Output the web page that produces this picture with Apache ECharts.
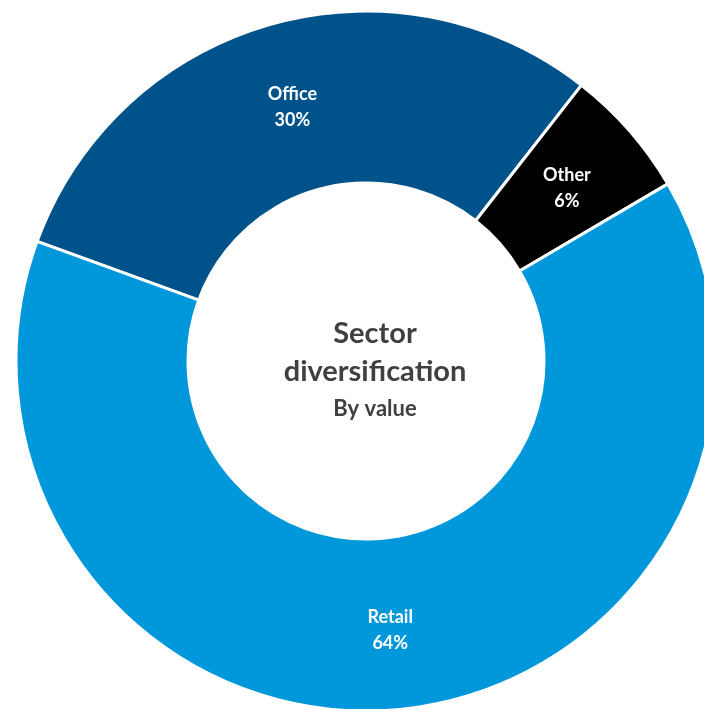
<!DOCTYPE html>
<html>
<head>
<meta charset="utf-8">
<script src="https://cdn.jsdelivr.net/npm/echarts@6/dist/echarts.min.js"></script>
<style>
html,body{margin:0;padding:0;background:#fff;}
#chart{width:704px;height:709px;}
</style>
</head>
<body>
<div id="chart"></div>
<script>
const categories = ['Office', 'Other', 'Retail'];
const values = [30, 6, 64];
const titleLines = ['Sector', 'diversification'];
const subtitle = 'By value';

const colors = ['#00538A', '#000000', '#0098DA'];
const chart = echarts.init(document.getElementById('chart'));
const fontFam = 'Lato, "Open Sans", sans-serif';
chart.setOption({
  animation: false,
  backgroundColor: '#ffffff',
  graphic: [
    { type: 'text', x: 375, y: 334, style: { text: titleLines[0], fill: '#404040', font: 'bold 29px ' + fontFam, textAlign: 'center', textVerticalAlign: 'middle' } },
    { type: 'text', x: 375, y: 372, style: { text: titleLines[1], fill: '#404040', font: 'bold 29px ' + fontFam, textAlign: 'center', textVerticalAlign: 'middle' } },
    { type: 'text', x: 375, y: 409, style: { text: subtitle, fill: '#404040', font: 'bold 22px ' + fontFam, textAlign: 'center', textVerticalAlign: 'middle' } }
  ],
  series: [{
    type: 'pie',
    center: [366, 361],
    radius: [178, 350],
    startAngle: 160,
    clockwise: true,
    avoidLabelOverlap: false,
    itemStyle: { borderColor: '#ffffff', borderWidth: 3 },
    label: {
      show: true,
      position: 'inside',
      color: '#ffffff',
      fontFamily: fontFam,
      fontWeight: 'bold',
      fontSize: 18,
      lineHeight: 26,
      offset: [0, 3],
      formatter: p => p.name + '\n' + p.value + '%'
    },
    labelLine: { show: false },
    emphasis: { disabled: true },
    data: categories.map((c, i) => ({ name: c, value: values[i], itemStyle: { color: colors[i] } }))
  }]
});
</script>
</body>
</html>
